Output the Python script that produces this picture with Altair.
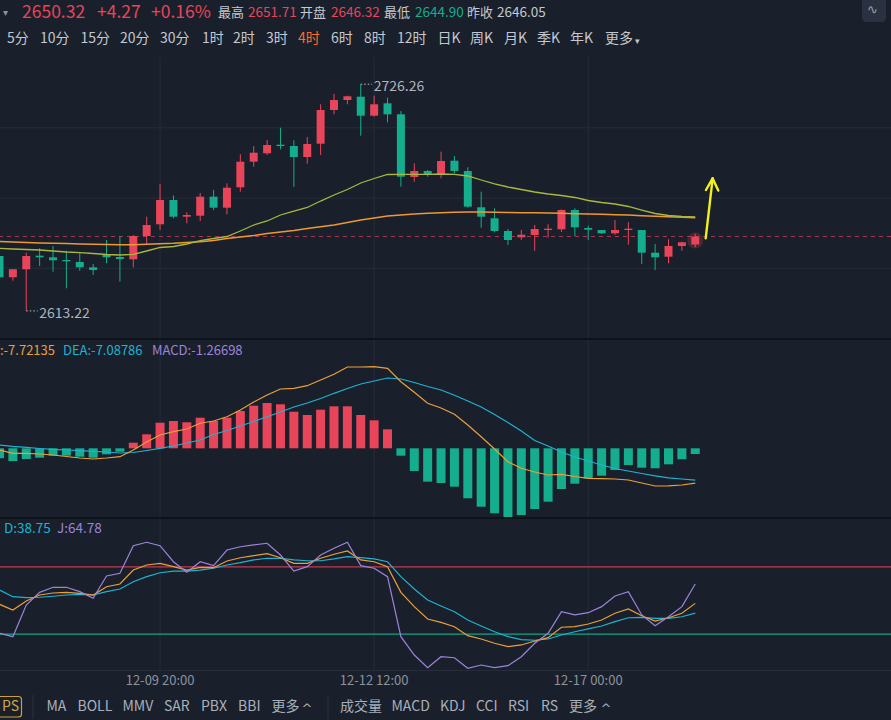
import altair as alt
import pandas as pd

# ---------------- quote header ----------------
last_price = "2650.32"
change = "+4.27"
change_pct = "+0.16%"
stat_names = ["最高", "开盘", "最低", "昨收"]
stat_values = ["2651.71", "2646.32", "2644.90", "2646.05"]
periods = ["5分", "10分", "15分", "20分", "30分", "1时", "2时", "3时", "4时",
           "6时", "8时", "12时", "日K", "周K", "月K", "季K", "年K", "更多"]
active_period = "4时"

# ---------------- 4h candles (oldest -> newest) ----------------
opens = [2640.60, 2629.98, 2633.97, 2640.75, 2639.95, 2638.60, 2637.61, 2634.96, 2641.25, 2640.10,
         2638.95, 2650.57, 2656.40, 2668.52, 2660.19, 2660.69, 2670.17, 2664.68, 2674.85, 2687.62,
         2691.81, 2696.09, 2695.44, 2689.96, 2696.59, 2713.39, 2718.38, 2720.03, 2710.55, 2716.73,
         2711.25, 2679.99, 2682.98, 2681.33, 2688.11, 2682.98, 2664.88, 2659.40, 2653.06, 2649.92,
         2651.07, 2653.56, 2653.91, 2663.53, 2654.56, 2653.56, 2651.92, 2653.56, 2653.56, 2642.24,
         2640.25, 2645.58, 2646.32]
highs = [2641.00, 2634.00, 2642.24, 2644.44, 2645.58, 2643.24, 2641.94, 2636.61, 2648.58, 2650.57,
         2651.07, 2660.19, 2676.50, 2670.76, 2662.39, 2672.01, 2673.51, 2676.85, 2691.31, 2695.44,
         2698.44, 2704.57, 2698.29, 2699.93, 2716.24, 2721.37, 2720.52, 2726.26, 2720.52, 2719.53,
         2712.90, 2686.82, 2683.48, 2692.60, 2690.46, 2684.82, 2672.66, 2664.38, 2654.06, 2653.56,
         2656.05, 2656.40, 2663.88, 2664.38, 2655.71, 2653.56, 2658.55, 2657.40, 2653.56, 2646.58,
         2648.93, 2647.73, 2651.71]
lows = [2629.50, 2628.28, 2613.22, 2635.61, 2632.77, 2624.49, 2633.27, 2631.12, 2636.96, 2627.78,
        2634.96, 2646.43, 2653.56, 2659.30, 2656.90, 2658.05, 2663.53, 2661.39, 2672.66, 2685.12,
        2690.96, 2693.80, 2675.15, 2686.62, 2690.96, 2711.25, 2716.24, 2700.58, 2710.05, 2707.26,
        2675.15, 2677.64, 2680.14, 2679.34, 2681.83, 2664.68, 2654.71, 2652.41, 2646.08, 2648.58,
        2643.24, 2649.72, 2652.56, 2650.57, 2648.58, 2651.57, 2651.22, 2646.23, 2636.61, 2633.62,
        2636.96, 2643.24, 2644.90]
closes = [2629.98, 2633.97, 2640.60, 2639.95, 2638.46, 2637.96, 2634.96, 2633.62, 2639.95, 2639.10,
          2650.57, 2656.05, 2668.52, 2660.19, 2661.04, 2670.17, 2664.68, 2674.65, 2687.62, 2692.10,
          2695.94, 2695.44, 2689.96, 2696.44, 2713.39, 2718.38, 2720.23, 2710.55, 2716.24, 2711.25,
          2680.14, 2682.98, 2681.33, 2687.97, 2682.98, 2665.18, 2660.19, 2653.06, 2648.58, 2651.22,
          2654.06, 2654.21, 2663.53, 2654.91, 2653.71, 2651.92, 2653.56, 2654.21, 2642.24, 2639.95,
          2645.58, 2647.43, 2650.32]

# moving averages drawn over the candles
ma_fast = [2644.44, 2644.09, 2643.84, 2643.59, 2643.09, 2642.59, 2642.24, 2641.84, 2641.35, 2641.10,
           2641.45, 2643.09, 2644.84, 2645.34, 2646.58, 2648.23, 2649.32, 2650.32, 2653.06, 2656.05,
           2658.05, 2661.04, 2663.03, 2664.78, 2668.00, 2671.01, 2673.76, 2676.99, 2679.24, 2681.24,
           2681.33, 2681.33, 2681.33, 2681.48, 2681.33, 2680.49, 2678.49, 2676.50, 2675.00, 2673.76,
           2672.51, 2671.51, 2670.76, 2669.77, 2668.27, 2667.27, 2666.53, 2665.28, 2663.53, 2661.79,
           2660.79, 2660.29, 2660.04]
ma_slow = [2647.83, 2647.58, 2647.33, 2647.08, 2646.93, 2646.83, 2646.58, 2646.43, 2646.33, 2646.23,
           2646.23, 2646.43, 2646.68, 2646.93, 2647.33, 2647.73, 2648.33, 2649.32, 2650.07, 2650.82,
           2651.82, 2652.56, 2653.31, 2654.31, 2655.21, 2656.05, 2657.30, 2658.55, 2659.55, 2660.54,
           2661.04, 2661.54, 2661.89, 2662.19, 2662.39, 2662.54, 2662.54, 2662.44, 2662.29, 2662.19,
           2662.14, 2662.04, 2661.89, 2661.69, 2661.54, 2661.39, 2661.19, 2661.04, 2660.69, 2660.44,
           2660.19, 2659.94, 2659.69]

price_grid = [2704.5, 2669.5, 2634.5]
time_ticks = [12, 28, 44]
time_labels = ["12-09 20:00", "12-12 12:00", "12-17 00:00"]

# ---------------- MACD ----------------
macd_hist = [-2.20, -2.82, -2.38, -2.09, -1.64, -1.64, -1.87, -2.09, -1.33, -0.76,
             1.24, 3.11, 5.69, 6.07, 5.78, 6.80, 6.07, 6.80, 8.29, 9.47,
             10.07, 9.78, 8.13, 7.40, 8.58, 9.33, 9.33, 7.40, 6.22, 4.22,
             -1.64, -5.04, -7.42, -7.71, -8.53, -11.11, -12.98, -14.44, -15.27, -14.82,
             -13.49, -11.87, -9.04, -7.87, -6.67, -6.09, -4.82, -3.71, -4.31, -4.44,
             -3.56, -2.44, -1.26698]
dif = [-0.38, -1.11, -1.11, -1.27, -1.49, -1.82, -2.16, -2.38, -2.16, -1.87,
       -0.38, 1.40, 2.96, 3.69, 4.29, 5.56, 6.07, 7.02, 8.51, 10.29,
       11.84, 13.18, 13.33, 13.91, 15.18, 16.44, 18.07, 18.07, 18.13, 17.78,
       14.80, 12.44, 10.00, 8.96, 7.56, 5.18, 2.58, -0.16, -2.98, -4.44,
       -5.27, -5.93, -5.78, -6.27, -6.67, -6.76, -6.82, -7.04, -7.71, -8.38,
       -8.33, -8.16, -7.72135]
dea = [0.73, 0.44, 0.22, -0.04, -0.22, -0.38, -0.53, -0.67, -0.82, -1.04,
       -0.93, -0.49, 0.00, 0.51, 1.18, 1.84, 3.07, 3.96, 4.96, 5.96,
       7.02, 8.07, 9.18, 10.07, 11.07, 12.22, 13.29, 14.29, 14.96, 15.62,
       15.40, 14.62, 13.73, 12.96, 11.78, 10.51, 9.18, 7.51, 5.73, 3.84,
       1.73, 0.51, -0.82, -1.93, -2.82, -3.71, -4.49, -5.04, -5.60, -6.11,
       -6.56, -6.82, -7.08786]

# ---------------- KDJ ----------------
k_line = [46.6, 41.5, 49.6, 54.9, 56.7, 57.3, 56.4, 54.9, 62.3, 64.7,
          77.2, 81.7, 83.2, 80.2, 77.2, 79.6, 79.3, 85.3, 88.2, 90.0,
          91.8, 88.2, 83.2, 83.2, 87.7, 91.3, 94.2, 86.2, 84.6, 80.2,
          57.3, 44.5, 33.5, 30.5, 26.6, 18.6, 15.6, 11.8, 8.8, 10.3,
          13.8, 16.8, 26.1, 26.6, 29.0, 32.6, 38.6, 42.4, 36.4, 31.7,
          34.6, 38.6, 47.43]
d_line = [59.4, 53.4, 52.5, 52.9, 53.8, 54.9, 55.5, 54.9, 57.9, 60.3,
          66.8, 71.3, 74.8, 76.3, 76.3, 77.2, 78.8, 81.7, 83.8, 86.2,
          87.7, 87.7, 86.2, 85.5, 85.5, 87.1, 89.1, 88.2, 87.1, 84.6,
          71.3, 60.3, 50.4, 45.1, 40.0, 32.6, 27.2, 22.1, 17.7, 15.0,
          14.5, 15.6, 19.2, 22.1, 24.6, 27.2, 31.1, 34.6, 35.0, 34.1,
          34.1, 35.5, 38.75]
j_line = [20.7, 17.7, 46.0, 57.3, 61.8, 61.8, 57.9, 52.0, 71.9, 74.3,
          98.9, 102.0, 98.9, 84.6, 75.2, 84.6, 81.1, 95.1, 98.0, 99.6,
          101.1, 90.6, 76.3, 80.2, 90.6, 96.6, 102.0, 81.1, 78.8, 71.3,
          17.7, 1.3, -10.0, -0.2, -1.1, -10.5, -7.6, -10.0, -8.2, -0.2,
          11.8, 20.7, 40.0, 37.1, 39.1, 44.5, 54.0, 57.9, 37.1, 27.5,
          35.5, 44.5, 64.78]
kdj_levels = [80, 20]

# ---------------- bottom toolbar ----------------
overlay_tools = ["MA", "BOLL", "MMV", "SAR", "PBX", "BBI", "更多"]
sub_tools = ["成交量", "MACD", "KDJ", "CCI", "RSI", "RS", "更多"]

# trend arrow drawn after the last candle: (candle index, price) pairs
arrow_segments = [
    (52.78, 2649.4, 53.30, 2679.3),
    (53.30, 2679.3, 52.80, 2673.5),
    (53.30, 2679.3, 53.72, 2673.2),
]

# ================= styling / layout =================
FONT = "Noto Sans CJK SC"
BG = "#19202b"
GRID = "#252d3a"
SEP = "#0e131a"
RED = "#e8445a"
GREEN = "#14ae8e"
MA_FAST_C = "#a8b83c"
MA_SLOW_C = "#f0982f"
ORANGE = "#e9a03a"
CYAN = "#1fb2d2"
PURPLE = "#9d83dc"
TXT = "#c3c8d1"
DIM = "#8b929e"
YELLOW = "#f4f01a"

W, H = 891, 720
STEP = 13.38      # pixel distance between candles
X_OFF = -0.5      # pixel centre of the first candle

xs = alt.Scale(domain=[-X_OFF / STEP, (W - X_OFF) / STEP], nice=False, zero=False, padding=0)

MAIN = ([2599.31, 2739.92], [338.8, 56.8])
MACD = ([-15.49, 24.29], [518, 339])
KDJ = ([-12.05, 123.66], [670, 518])


def ysc(panel):
    return alt.Scale(domain=panel[0], range=panel[1], nice=False, zero=False, padding=0)


def X(field="i"):
    return alt.X(f"{field}:Q", scale=xs, axis=None)


def Y(field, panel):
    return alt.Y(f"{field}:Q", scale=ysc(panel), axis=None)


def label(text, x, y, color=TXT, size=13, align="left", weight="normal", font=FONT):
    return alt.Chart(pd.DataFrame({"t": [text]})).mark_text(
        align=align, baseline="middle", font=font, fontSize=size, color=color,
        fontWeight=weight
    ).encode(x=alt.value(x), y=alt.value(y), text="t:N")


idx = list(range(len(opens)))
cdf = pd.DataFrame({"i": idx, "o": opens, "h": highs, "l": lows, "c": closes})
up_color = alt.condition(alt.datum.c >= alt.datum.o, alt.value(RED), alt.value(GREEN))

layers = []

# ---- main panel grid ----
layers.append(alt.Chart(pd.DataFrame({"p": price_grid})).mark_rule(color=GRID, strokeWidth=1)
              .encode(y=Y("p", MAIN)))
layers.append(alt.Chart(pd.DataFrame({"i": time_ticks})).mark_rule(color=GRID, strokeWidth=1)
              .encode(x=X(), y=alt.value(57), y2=alt.value(670)))

# ---- last price dashed line ----
layers.append(alt.Chart(pd.DataFrame({"p": [closes[-1]]}))
              .mark_rule(color="#a8394f", strokeWidth=1, strokeDash=[4, 4])
              .encode(y=Y("p", MAIN)))

# ---- candles ----
base = alt.Chart(cdf)
layers.append(base.mark_rule(strokeWidth=1).encode(x=X(), y=Y("l", MAIN), y2="h:Q", color=up_color))
layers.append(base.mark_bar(size=8).encode(x=X(), y=Y("o", MAIN), y2="c:Q", color=up_color))

# glow on the live candle
layers.append(alt.Chart(pd.DataFrame({"i": [idx[-1]], "p": [(opens[-1] + closes[-1]) / 2]}))
              .mark_circle(size=260, color=RED, opacity=0.22)
              .encode(x=X(), y=Y("p", MAIN)))

# ---- moving averages ----
madf = pd.DataFrame({"i": idx, "fast": ma_fast, "slow": ma_slow})
layers.append(alt.Chart(madf).mark_line(color=MA_SLOW_C, strokeWidth=1.4).encode(x=X(), y=Y("slow", MAIN)))
layers.append(alt.Chart(madf).mark_line(color=MA_FAST_C, strokeWidth=1.3).encode(x=X(), y=Y("fast", MAIN)))

# ---- high / low markers ----
hi_i = highs.index(max(highs))
lo_i = lows.index(min(lows))
ext = pd.DataFrame({"i": [hi_i, lo_i], "p": [max(highs), min(lows)],
                    "i2": [hi_i + 0.85, lo_i + 0.85],
                    "t": [f"{max(highs):.2f}", f"{min(lows):.2f}"]})
layers.append(alt.Chart(ext).mark_rule(color="#b4bac4", strokeWidth=1, strokeDash=[1.5, 2])
              .encode(x=X(), x2="i2:Q", y=Y("p", MAIN)))
layers.append(alt.Chart(ext).mark_text(align="left", baseline="middle", font=FONT, fontSize=14,
                                       color="#aeb4be", dx=13, dy=3)
              .encode(x=X(), y=Y("p", MAIN), text="t:N"))

# ---- trend arrow ----
adf = pd.DataFrame(arrow_segments, columns=["i", "p", "i2", "p2"])
layers.append(alt.Chart(adf).mark_rule(color=YELLOW, strokeWidth=2.4, strokeCap="round")
              .encode(x=X(), x2="i2:Q", y=Y("p", MAIN), y2="p2:Q"))

# ---- MACD panel ----
mdf = pd.DataFrame({"i": idx, "v": macd_hist, "z": [0.0] * len(idx), "dif": dif, "dea": dea})
layers.append(alt.Chart(mdf).mark_bar(size=9)
              .encode(x=X(), y=Y("v", MACD), y2="z:Q",
                      color=alt.condition(alt.datum.v >= 0, alt.value(RED), alt.value(GREEN))))
layers.append(alt.Chart(mdf).mark_line(color=CYAN, strokeWidth=1.2).encode(x=X(), y=Y("dea", MACD)))
layers.append(alt.Chart(mdf).mark_line(color=ORANGE, strokeWidth=1.2).encode(x=X(), y=Y("dif", MACD)))

# ---- KDJ panel ----
layers.append(alt.Chart(pd.DataFrame({"lv": [kdj_levels[0]]})).mark_rule(color="#c23a50", strokeWidth=1.3)
              .encode(y=Y("lv", KDJ)))
layers.append(alt.Chart(pd.DataFrame({"lv": [kdj_levels[1]]})).mark_rule(color="#13a488", strokeWidth=1.3)
              .encode(y=Y("lv", KDJ)))
kdf = pd.DataFrame({"i": idx, "k": k_line, "d": d_line, "j": j_line})
layers.append(alt.Chart(kdf).mark_line(color=CYAN, strokeWidth=1.2).encode(x=X(), y=Y("d", KDJ)))
layers.append(alt.Chart(kdf).mark_line(color=ORANGE, strokeWidth=1.2).encode(x=X(), y=Y("k", KDJ)))
layers.append(alt.Chart(kdf).mark_line(color=PURPLE, strokeWidth=1.2).encode(x=X(), y=Y("j", KDJ)))

# ---- panel separators and time axis ----
for yy, col, sw in [(339, SEP, 2), (518, SEP, 2), (670.5, GRID, 1)]:
    layers.append(alt.Chart(pd.DataFrame({"a": [0]})).mark_rule(color=col, strokeWidth=sw)
                  .encode(x=alt.value(0), x2=alt.value(W), y=alt.value(yy)))
tdf = pd.DataFrame({"i": time_ticks, "t": time_labels})
layers.append(alt.Chart(tdf).mark_text(align="center", baseline="middle", font=FONT, fontSize=13, color=DIM)
              .encode(x=X(), y=alt.value(681), text="t:N"))

# ---- indicator captions ----
layers.append(label(f"DIF:{dif[-1]:.5f}", 55, 350.5, ORANGE, 13, align="right"))
layers.append(label(f"DEA:{dea[-1]:.5f}", 63, 350.5, CYAN, 13))
layers.append(label(f"MACD:{macd_hist[-1]:.5f}", 152, 350.5, PURPLE, 13))
layers.append(label(f"D:{d_line[-1]:.2f}", 4, 529, CYAN, 13.5))
layers.append(label(f"J:{j_line[-1]:.2f}", 57, 529, PURPLE, 13.5))

# ---- header: quote line ----
ROW1 = 13
layers.append(label("▾", 3, ROW1, DIM, 10, font="DejaVu Sans"))
layers.append(label(last_price, 22, ROW1, RED, 17.5))
layers.append(label(change, 97, ROW1, RED, 17.5))
layers.append(label(change_pct, 151, ROW1, RED, 17.5))
stat_x = [(218, 248), (300, 331), (384, 415), (467, 497)]
stat_colors = [RED, RED, GREEN, TXT]
for (nx, vx), name, val, col in zip(stat_x, stat_names, stat_values, stat_colors):
    layers.append(label(name, nx, ROW1, TXT, 13))
    layers.append(label(val, vx, ROW1, col, 13.5))

# header icon box
layers.append(alt.Chart(pd.DataFrame({"a": [0]})).mark_rect(color="#2a3241", cornerRadius=4)
              .encode(x=alt.value(862), x2=alt.value(886), y=alt.value(-4), y2=alt.value(22)))
layers.append(label("∿", 867, 10, "#9aa2ae", 13, font="DejaVu Sans"))

# ---- header: period selector ----
period_x = [7, 40, 80.5, 120, 160, 202, 233, 266, 298, 331, 364, 397, 437.5, 470, 504, 537, 570, 605]
for px, name in zip(period_x, periods):
    layers.append(label(name, px, 39, "#ff6a2a" if name == active_period else TXT, 14))
layers.append(label("▾", 635, 41, TXT, 9, font="DejaVu Sans"))

# ---- bottom toolbar ----
layers.append(alt.Chart(pd.DataFrame({"a": [0]}))
              .mark_rect(fill=BG, stroke="#c9a03c", strokeWidth=1.2, cornerRadius=3)
              .encode(x=alt.value(-10), x2=alt.value(21.5), y=alt.value(696.5), y2=alt.value(717)))
layers.append(label("PS", 19, 707, "#d2a742", 14, align="right"))
for sx in [33, 328]:
    layers.append(alt.Chart(pd.DataFrame({"a": [0]})).mark_rule(color="#2b3340", strokeWidth=1)
                  .encode(x=alt.value(sx), y=alt.value(695), y2=alt.value(719)))
overlay_x = [46.5, 77.5, 122.5, 164, 201, 238, 271.5]
for tx, name in zip(overlay_x, overlay_tools):
    layers.append(label(name, tx, 707, "#a9b0bb", 14))
layers.append(label("^", 301.5, 709, "#a9b0bb", 13, font="DejaVu Sans"))
sub_x = [340, 391.5, 440, 476, 508, 541, 569]
for tx, name in zip(sub_x, sub_tools):
    layers.append(label(name, tx, 707, "#a9b0bb", 14))
layers.append(label("^", 600.5, 709, "#a9b0bb", 13, font="DejaVu Sans"))

chart = (
    alt.layer(*layers)
    .resolve_scale(y="independent")
    .properties(width=W, height=H, background=BG, padding=0,
                autosize=alt.AutoSizeParams(type="none"))
    .configure_view(stroke=None)
)

chart.save("out.html", embed_options={"renderer": "svg", "actions": False})
